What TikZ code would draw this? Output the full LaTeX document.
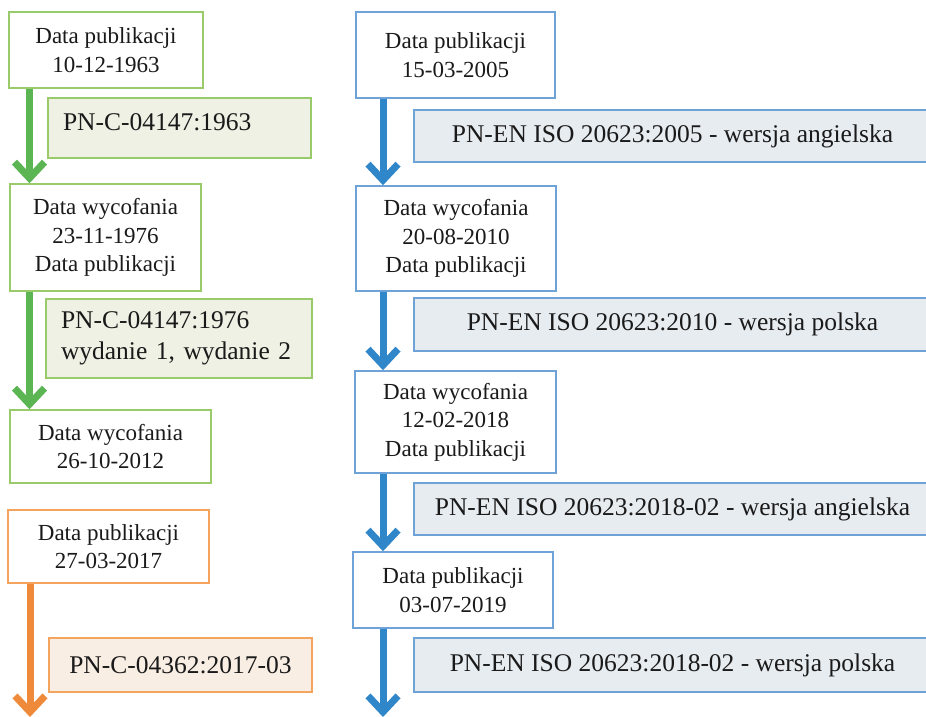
\documentclass[tikz,border=0pt]{standalone}
\usepackage{fontspec}
\setmainfont{Liberation Serif}
\usetikzlibrary{arrows.meta}
\definecolor{txt}{HTML}{1A1A1A}
\definecolor{gA}{HTML}{5AB552}
\definecolor{gB}{HTML}{9ACB6A}
\definecolor{gF}{HTML}{EEF1E3}
\definecolor{oA}{HTML}{EE8A3A}
\definecolor{oB}{HTML}{F5A45E}
\definecolor{oF}{HTML}{F9EEE4}
\definecolor{bA}{HTML}{2F86C8}
\definecolor{bB}{HTML}{6FA3D8}
\definecolor{bF}{HTML}{E7ECF1}
\begin{document}
\begin{tikzpicture}[x=1pt,y=-1pt,
  datebox/.style={draw=#1, fill=white, line width=1.5pt, align=center,
    font=\fontsize{23}{28.5}\selectfont, text=txt, inner sep=0pt},
  pnbox/.style={draw=#1, line width=1.5pt,
    font=\fontsize{25.5}{31}\selectfont, text=txt, inner sep=0pt},
  flow/.style={draw=#1, line width=7pt, -{Straight Barb[length=16pt,width=30pt]}}]
\clip (0,0) rectangle (926,717);
\fill[white] (0,0) rectangle (926,717);
% column x positions
\coordinate (gx) at (29.5,0);
\coordinate (bx) at (383,0);
\coordinate (oend) at (30,717);
\coordinate (bend) at (383,717);
% green column
\node[datebox=gB, minimum width=194pt, minimum height=76pt] (g1) at (106,50) {Data publikacji\\10-12-1963};
\node[pnbox=gB, fill=gF, inner xsep=15pt, text width=233pt, align=left, minimum height=60pt, text depth=12pt] (gp1) at (179.5,128) {PN-C-04147:1963};
\node[datebox=gB, minimum width=191pt, minimum height=107pt] (g2) at (105.5,237.5) {Data wycofania\\23-11-1976\\Data publikacji};
\node[pnbox=gB, fill=gF, inner xsep=15pt, text width=236pt, align=left, minimum height=79pt] (gp2) at (179,338.5) {PN-C-04147:1976\\wydanie 1, wydanie 2};
\node[datebox=gB, minimum width=201pt, minimum height=73pt] (g3) at (110.5,446.5) {Data wycofania\\26-10-2012};
% orange column
\node[datebox=oB, minimum width=201pt, minimum height=73pt] (o1) at (108.5,546.5) {Data publikacji\\27-03-2017};
\node[pnbox=oB, fill=oF, minimum width=263pt, minimum height=54pt] (op1) at (180.5,665) {PN-C-04362:2017-03};
% blue column
\node[datebox=bB, minimum width=199pt, minimum height=86pt] (b1) at (455.5,55) {Data publikacji\\15-03-2005};
\node[pnbox=bB, fill=bF, minimum width=517pt, minimum height=52pt] (p1) at (672.5,136) {PN-EN ISO 20623:2005 - wersja angielska};
\node[datebox=bB, minimum width=200pt, minimum height=105pt] (b2) at (456,238.5) {Data wycofania\\20-08-2010\\Data publikacji};
\node[pnbox=bB, fill=bF, minimum width=517pt, minimum height=53pt] (p2) at (672.5,324.5) {PN-EN ISO 20623:2010 - wersja polska};
\node[datebox=bB, minimum width=201pt, minimum height=102pt] (b3) at (455.5,422) {Data wycofania\\12-02-2018\\Data publikacji};
\node[pnbox=bB, fill=bF, minimum width=517pt, minimum height=52pt] (p3) at (672.5,509) {PN-EN ISO 20623:2018-02 - wersja angielska};
\node[datebox=bB, minimum width=200pt, minimum height=76pt] (b4) at (453,590) {Data publikacji\\03-07-2019};
\node[pnbox=bB, fill=bF, minimum width=517pt, minimum height=54pt] (p4) at (672.5,665) {PN-EN ISO 20623:2018-02 - wersja polska};
% connectors
\draw[flow=gA] (g1.south -| gx) -- (g2.north -| gx);
\draw[flow=gA] (g2.south -| gx) -- (g3.north -| gx);
\draw[flow=oA] (o1.south -| oend) -- (oend);
\draw[flow=bA] (b1.south -| bx) -- (b2.north -| bx);
\draw[flow=bA] (b2.south -| bx) -- (b3.north -| bx);
\draw[flow=bA] (b3.south -| bx) -- (b4.north -| bx);
\draw[flow=bA] (b4.south -| bx) -- (bend);
\end{tikzpicture}
\end{document}
